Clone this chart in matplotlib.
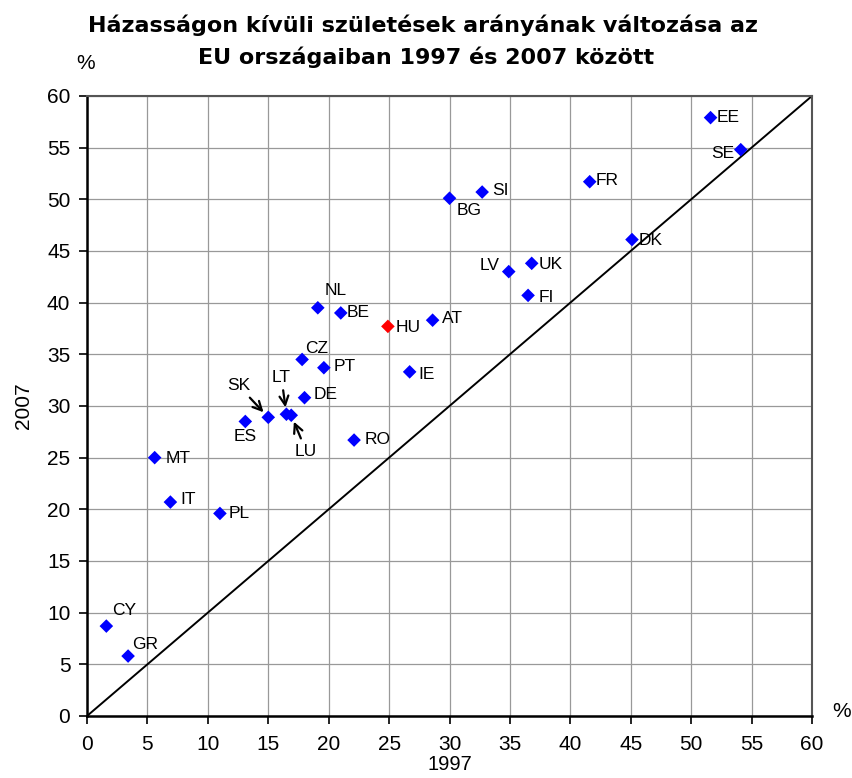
import matplotlib.pyplot as plt

plt.rcParams["font.family"] = ["Liberation Sans", "DejaVu Sans"]

# country codes and shares of births outside marriage (%)
countries = ["EE", "SE", "FR", "DK", "BG", "SI", "LV", "UK", "FI", "NL", "BE", "HU",
             "AT", "CZ", "PT", "IE", "DE", "SK", "ES", "LT", "LU", "RO", "MT", "IT",
             "PL", "CY", "GR"]
y1997 = [51.6, 54.1, 41.6, 45.1, 30.0, 32.7, 34.9, 36.8, 36.5, 19.1, 21.0, 24.9,
         28.6, 17.8, 19.6, 26.7, 18.0, 15.0, 13.1, 16.5, 16.9, 22.1, 5.6, 6.9,
         11.0, 1.6, 3.4]
y2007 = [57.9, 54.8, 51.7, 46.1, 50.1, 50.7, 43.0, 43.8, 40.7, 39.5, 39.0, 37.7,
         38.3, 34.5, 33.7, 33.3, 30.8, 28.9, 28.5, 29.2, 29.1, 26.7, 25.0, 20.7,
         19.6, 8.7, 5.8]
highlight = "HU"
title_lines = ["Házasságon kívüli születések arányának változása az",
               "EU országaiban 1997 és 2007 között"]

# label offsets in pixels (dx, dy) from the marker
offsets = {
    "EE": (18, 0), "SE": (-18, -4), "FR": (17, 1), "DK": (19, -1), "BG": (20, -12),
    "SI": (18, 2), "LV": (-19, 6), "UK": (19, -1), "FI": (18, -2), "NL": (18, 17),
    "BE": (17, 0), "HU": (20, -1), "AT": (20, 2), "CZ": (15, 11), "PT": (21, 1),
    "IE": (17, -3), "DE": (21, 3), "ES": (0, -15), "RO": (24, 1), "MT": (23, -1),
    "IT": (18, 3), "PL": (19, 0), "CY": (18, 16), "GR": (17, 12),
}
arrow_labels = {"SK": (-30, 32), "LT": (-5, 37), "LU": (15, -36)}

fig = plt.figure(figsize=(8.53, 7.78), dpi=100)
ax = fig.add_axes([0.102, 0.0797, 0.850, 0.797])

ax.plot([0, 60], [0, 60], color="black", linewidth=1.4, zorder=2)

colors = ["#FF0000" if c == highlight else "#0000FF" for c in countries]
ax.scatter(y1997, y2007, marker="D", s=48, c=colors, linewidths=0, zorder=3)

for c, x, y in zip(countries, y1997, y2007):
    if c in offsets:
        dx, dy = offsets[c]
        ax.annotate(c, (x, y), xytext=(dx, dy), textcoords="offset pixels",
                    ha="center", va="center", fontsize=12.5)
    else:
        dx, dy = arrow_labels[c]
        ax.annotate(c, (x, y), xytext=(dx, dy), textcoords="offset pixels",
                    ha="center", va="center", fontsize=12.5,
                    arrowprops=dict(arrowstyle="->", color="black", lw=1.6,
                                    shrinkA=2, shrinkB=5, mutation_scale=16))

ax.set_xlim(0, 60)
ax.set_ylim(0, 60)
ax.set_xticks(range(0, 61, 5))
ax.set_yticks(range(0, 61, 5))
ax.grid(True, color="#999999", linewidth=0.9)
ax.set_axisbelow(True)
for side in ["top", "right"]:
    ax.spines[side].set_color("#555555")
    ax.spines[side].set_linewidth(1.5)
for side in ["left", "bottom"]:
    ax.spines[side].set_linewidth(1.8)
ax.tick_params(direction="out", length=6, width=1.2, labelsize=15)
ax.tick_params(axis="x", pad=8)
ax.tick_params(axis="y", pad=6)

ax.set_ylabel("2007", fontsize=15, labelpad=10)
fig.text(0.527, 0.017, "1997", fontsize=14.5, ha="center", va="center")
fig.text(0.100, 0.919, "%", fontsize=15, ha="center", va="center")
fig.text(0.987, 0.085, "%", fontsize=15, ha="center", va="center")

fig.text(0.496, 0.967, title_lines[0], fontsize=16, fontweight="bold",
         family="DejaVu Sans", ha="center", va="center")
fig.text(0.499, 0.926, title_lines[1], fontsize=16, fontweight="bold",
         family="DejaVu Sans", ha="center", va="center")

fig.savefig("out.png", dpi=100)
